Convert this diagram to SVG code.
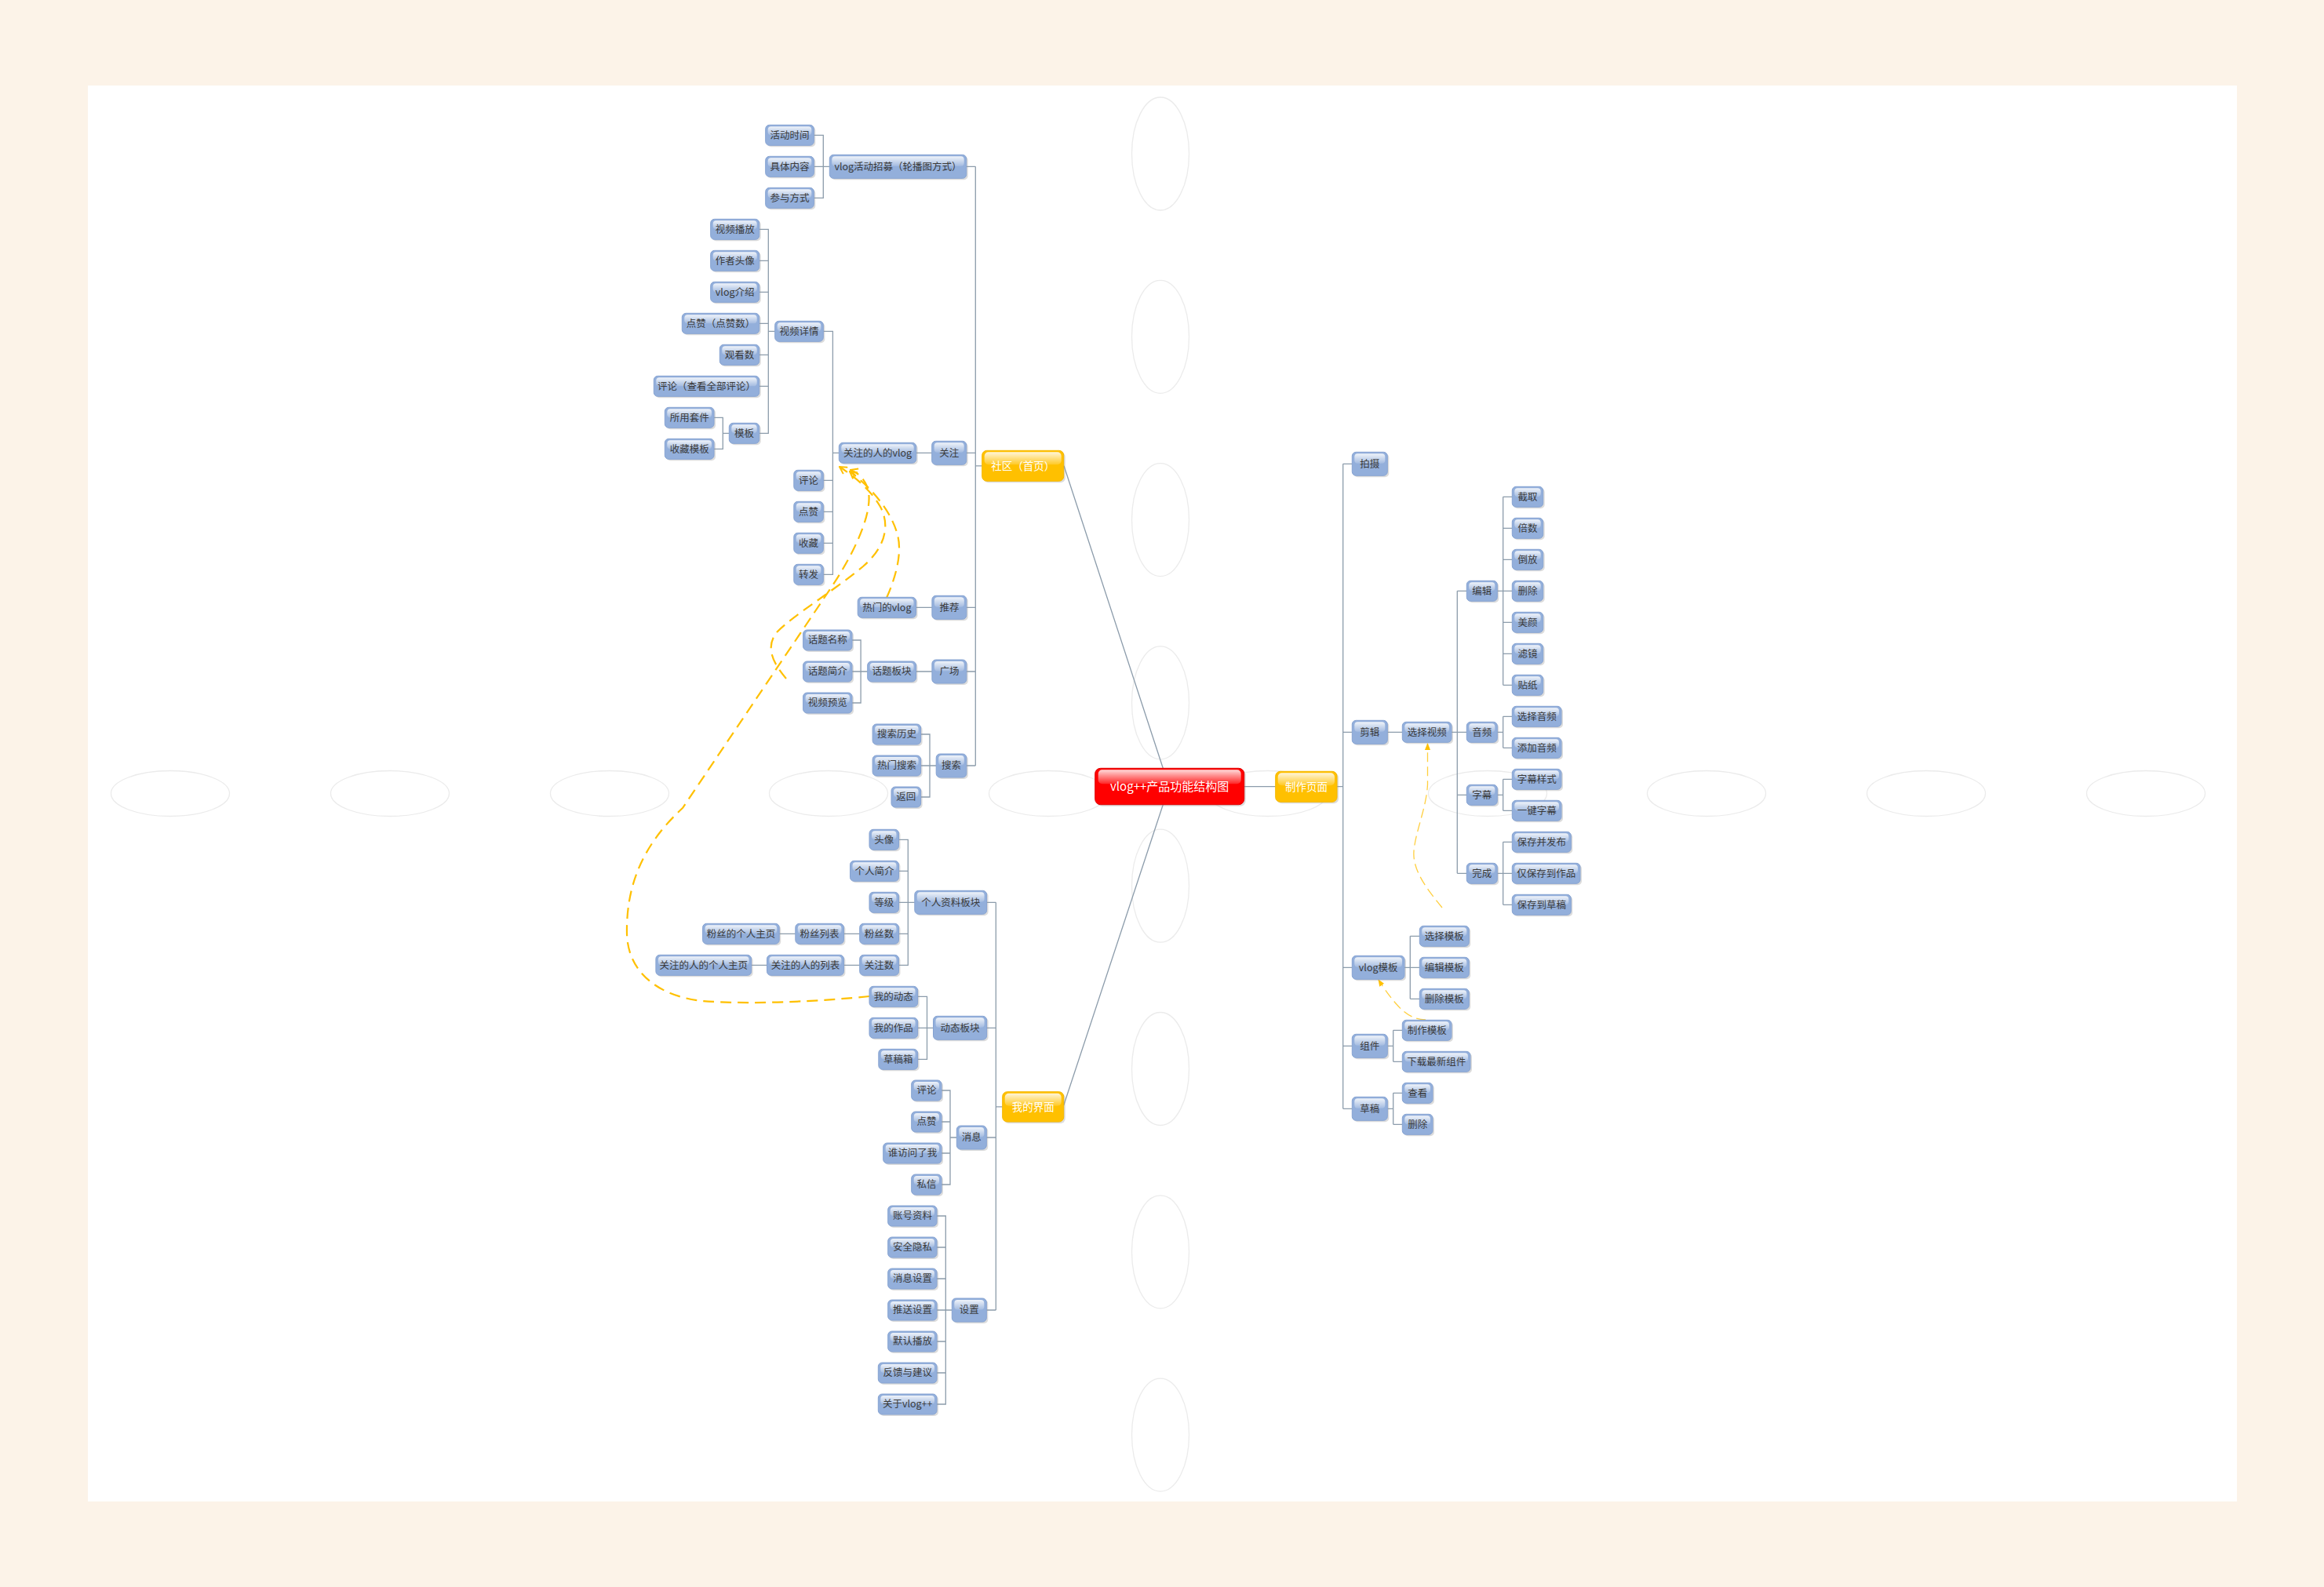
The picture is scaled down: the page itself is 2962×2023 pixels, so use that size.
<svg xmlns="http://www.w3.org/2000/svg" width="2962" height="2023" viewBox="0 0 2962 2023">
<defs>
<style>
.s{fill:#9a9a9a;opacity:.35}
.b{fill:#93AFDB;stroke:#86A3D2;stroke-width:1}
.g{fill:url(#gl)}
.o{fill:#FFC000;stroke:#F5B800;stroke-width:1}
.r{fill:#FF0000;stroke:#E00000;stroke-width:1}
.t{font-family:"Noto Sans CJK SC","Noto Sans",sans-serif;font-size:12.5px;fill:#3a3a3a;text-anchor:middle}
.to{font-family:"Noto Sans CJK SC","Noto Sans",sans-serif;font-size:13.5px;fill:#ffffff;text-anchor:middle}
.tr{font-family:"Noto Sans CJK SC","Noto Sans",sans-serif;font-size:15px;fill:#ffffff;text-anchor:middle}
.ln{fill:none;stroke:#8C9CAB;stroke-width:1.3}
.el{fill:none;stroke:#EBEBEB;stroke-width:1.3}
.dl{fill:none;stroke:#FFC000;stroke-width:2.2;stroke-dasharray:14 8}
.dr{fill:none;stroke:#FFCF3F;stroke-width:1.3;stroke-dasharray:12 6}
</style>
<linearGradient id="gl" x1="0" y1="0" x2="0" y2="1">
<stop offset="0" stop-color="#fff" stop-opacity=".85"/>
<stop offset="1" stop-color="#fff" stop-opacity=".15"/>
</linearGradient>
<marker id="aL" viewBox="0 0 12 12" refX="11" refY="6" markerWidth="12" markerHeight="12" markerUnits="userSpaceOnUse" orient="auto">
<path d="M2 1 L11 6 L2 11" fill="none" stroke="#FFC000" stroke-width="2"/>
</marker>
<marker id="aR" viewBox="0 0 10 10" refX="9" refY="5" markerWidth="9" markerHeight="9" markerUnits="userSpaceOnUse" orient="auto">
<path d="M0 1 L10 5 L0 9 z" fill="#FFC000"/>
</marker>
</defs>

<rect x="0" y="0" width="2962" height="2023" fill="#FCF3E8"/>
<rect x="112" y="109" width="2739" height="1805" fill="#FFFFFF"/>

<g id="ellipses">
<ellipse class="el" cx="217" cy="1011.5" rx="75.5" ry="29"/>
<ellipse class="el" cx="497" cy="1011.5" rx="75.5" ry="29"/>
<ellipse class="el" cx="777" cy="1011.5" rx="75.5" ry="29"/>
<ellipse class="el" cx="1056" cy="1011.5" rx="75.5" ry="29"/>
<ellipse class="el" cx="1336" cy="1011.5" rx="75.5" ry="29"/>
<ellipse class="el" cx="1616" cy="1011.5" rx="75.5" ry="29"/>
<ellipse class="el" cx="1896" cy="1011.5" rx="75.5" ry="29"/>
<ellipse class="el" cx="2175" cy="1011.5" rx="75.5" ry="29"/>
<ellipse class="el" cx="2455" cy="1011.5" rx="75.5" ry="29"/>
<ellipse class="el" cx="2735" cy="1011.5" rx="75.5" ry="29"/>
<ellipse class="el" cx="1479" cy="196" rx="36.5" ry="72"/>
<ellipse class="el" cx="1479" cy="429.3" rx="36.5" ry="72"/>
<ellipse class="el" cx="1479" cy="662.6" rx="36.5" ry="72"/>
<ellipse class="el" cx="1479" cy="895.9" rx="36.5" ry="72"/>
<ellipse class="el" cx="1479" cy="1129.2" rx="36.5" ry="72"/>
<ellipse class="el" cx="1479" cy="1362.5" rx="36.5" ry="72"/>
<ellipse class="el" cx="1479" cy="1595.8" rx="36.5" ry="72"/>
<ellipse class="el" cx="1479" cy="1829.1" rx="36.5" ry="72"/>
</g>

<g id="connectors">
<path class="ln" d="M1243.3 212.3 V976 M1231.7 212.3 H1243.3 M1231.7 577.3 H1243.3 M1231.8 774.3 H1243.3 M1231.8 856 H1243.3 M1231.8 976 H1243.3 M1243.3 593.8 H1251.7
M1037.3 172.3 H1049.3 V252.3 H1037.3 M1037.3 212.3 H1057.3
M1167.7 577.3 H1187.7
M1049.3 422.3 H1061.4 V732.3 H1049.3 M1049.3 612.3 H1061.4 M1049.3 652.3 H1061.4 M1049.3 692.3 H1061.4 M1061.4 577.3 H1069.3
M967.7 292.3 H979.3 V552.3 H967.7 M967.7 332.3 H979.3 M967.7 372.3 H979.3 M967.7 412.3 H979.3 M967.7 452.3 H979.3 M967.7 492.3 H979.3 M979.3 422.3 H987.7
M910 532.3 H921.3 V572.3 H910 M921.3 552.3 H929.3
M1167.5 774.3 H1187.9 M1167.5 856 H1187.9
M1086 816 H1097.1 V896 H1086 M1086 856 H1105.7
M1173.6 936 H1185 V1016 H1173.6 M1173.6 976 H1193.2
M1356 593.8 L1482.3 979.3 M1482.3 1025.7 L1355.7 1409 M1585.7 1002.7 H1625.7
M1269.3 1150.3 V1670 M1257.6 1150.3 H1269.3 M1257.6 1310.3 H1269.3 M1257.3 1450 H1269.3 M1257.3 1670 H1269.3 M1269.3 1410.8 H1277.7
M1145.5 1070.3 H1157.3 V1230.3 H1145.5 M1145.5 1110.3 H1157.3 M1145.5 1150.3 H1165.8 M1145.5 1190.3 H1157.3
M1075.4 1190.3 H1095.7 M993.2 1190.3 H1013.8 M1075.4 1230.3 H1095.7 M957.6 1230.3 H977.5
M1169.6 1270.3 H1181.5 V1350.3 H1169.6 M1169.6 1310.3 H1189.5
M1200 1390 H1211 V1510 H1200 M1200 1430 H1211 M1200 1470 H1211 M1211 1450 H1219.3
M1194 1550 H1205.3 V1790 H1194 M1194 1590 H1205.3 M1194 1630 H1205.3 M1194 1670 H1213.3 M1194 1710 H1205.3 M1194 1750 H1205.3
M1704 1002.7 H1711.7 M1711.7 591.3 V1413.3 M1711.7 591.3 H1723.3 M1711.7 933.3 H1723.3 M1711.7 1233.3 H1723.3 M1711.7 1333.3 H1723.3 M1711.7 1413.3 H1723.3
M1768.3 933.3 H1787.3 M1850 933.3 H1857.3 M1857.3 753.3 V1113.3 M1857.3 753.3 H1869.3 M1857.3 933.3 H1869.3 M1857.3 1013.3 H1869.3 M1857.3 1113.3 H1869.3
M1908.3 753.3 H1927.3 M1915.7 633.3 V873.3 M1915.7 633.3 H1927.3 M1915.7 673.3 H1927.3 M1915.7 713.3 H1927.3 M1915.7 793.3 H1927.3 M1915.7 833.3 H1927.3 M1915.7 873.3 H1927.3
M1908.3 933.3 H1915.7 M1915.7 913.3 V953.3 M1915.7 913.3 H1927.3 M1915.7 953.3 H1927.3
M1908.3 1013.3 H1915.7 M1915.7 993.3 V1033.3 M1915.7 993.3 H1927.3 M1915.7 1033.3 H1927.3
M1908.3 1113.3 H1927.3 M1915.7 1073.3 V1153.3 M1915.7 1073.3 H1927.3 M1915.7 1153.3 H1927.3
M1790 1233.3 H1809.3 M1797.3 1193.3 V1273.3 M1797.3 1193.3 H1809.3 M1797.3 1273.3 H1809.3
M1768.3 1333.3 H1775.7 M1775.7 1313.3 V1353.3 M1775.7 1313.3 H1787.3 M1775.7 1353.3 H1787.3
M1768.3 1413.3 H1775.7 M1775.7 1393.3 V1433.3 M1775.7 1393.3 H1787.3 M1775.7 1433.3 H1787.3"/>
<path class="dl" marker-end="url(#aL)" d="M1108 1270 C1050 1276 960 1281 895 1276 C840 1270 800 1240 799 1190 C798 1130 818 1078 870 1030 L1060 748 C1095 695 1115 645 1105 620 C1100 608 1092 602 1084 599"/>
<path class="dl" marker-end="url(#aL)" d="M1002 865 C985 845 975 825 990 806 C1010 785 1060 755 1100 722 C1128 698 1135 670 1122 646 C1110 625 1090 608 1070 595"/>
<path class="dl" marker-end="url(#aL)" d="M1130 762 C1142 735 1150 705 1144 682 C1137 655 1115 625 1083 601"/>
<path class="dr" marker-end="url(#aR)" d="M1838 1157 C1820 1135 1800 1110 1802 1085 C1804 1060 1818 1030 1819.5 1000 L1819.5 948"/>
<path class="dr" marker-end="url(#aR)" d="M1817 1300 C1800 1299 1790 1292 1778 1278 C1768 1266 1762 1257 1757 1249"/>
</g>

<g id="root"><rect class="s" x="1397.7" y="981.3" width="190" height="46.4" rx="7"/><rect class="r" x="1395.7" y="979.3" width="190" height="46.4" rx="7"/><rect class="g" x="1399.7" y="981.3" width="182" height="18" rx="5"/><text class="tr" x="1490.7" y="1007.8">vlog++产品功能结构图</text></g>

<g id="shequ"><rect class="s" x="1253.7" y="576.3" width="104" height="39" rx="6"/><rect class="o" x="1251.7" y="574.3" width="104" height="39" rx="6"/><rect class="g" x="1254.7" y="576.3" width="98" height="16" rx="5"/><text class="to" x="1303.7" y="598.6">社区（首页）</text></g>
<g id="zhizuo"><rect class="s" x="1627.7" y="985.3" width="78.3" height="39" rx="6"/><rect class="o" x="1625.7" y="983.3" width="78.3" height="39" rx="6"/><rect class="g" x="1628.7" y="985.3" width="72.3" height="16" rx="5"/><text class="to" x="1664.9" y="1007.6">制作页面</text></g>
<g id="wode"><rect class="s" x="1279.7" y="1393.7" width="78" height="38.3" rx="6"/><rect class="o" x="1277.7" y="1391.7" width="78" height="38.3" rx="6"/><rect class="g" x="1280.7" y="1393.7" width="72" height="16" rx="5"/><text class="to" x="1316.7" y="1415.6">我的界面</text></g>

<g id="n-huodong"><rect class="s" x="1059.3" y="199.3" width="174.4" height="30" rx="5"/><rect class="b" x="1057.3" y="197.3" width="174.4" height="30" rx="5"/><rect class="g" x="1060.3" y="199.3" width="168.4" height="12.5" rx="4"/><text class="t" x="1144.5" y="216.7">vlog活动招募（轮播图方式）</text></g>
<g id="n-hdsj"><rect class="s" x="977.7" y="161.3" width="61.6" height="26" rx="5"/><rect class="b" x="975.7" y="159.3" width="61.6" height="26" rx="5"/><rect class="g" x="978.7" y="161.3" width="55.6" height="11" rx="4"/><text class="t" x="1006.5" y="176.7">活动时间</text></g>
<g id="n-jtnr"><rect class="s" x="977.7" y="201.3" width="61.6" height="26" rx="5"/><rect class="b" x="975.7" y="199.3" width="61.6" height="26" rx="5"/><rect class="g" x="978.7" y="201.3" width="55.6" height="11" rx="4"/><text class="t" x="1006.5" y="216.7">具体内容</text></g>
<g id="n-cyfs"><rect class="s" x="977.7" y="241.3" width="61.6" height="26" rx="5"/><rect class="b" x="975.7" y="239.3" width="61.6" height="26" rx="5"/><rect class="g" x="978.7" y="241.3" width="55.6" height="11" rx="4"/><text class="t" x="1006.5" y="256.7">参与方式</text></g>
<g id="n-guanzhu"><rect class="s" x="1189.7" y="564.3" width="44" height="30" rx="5"/><rect class="b" x="1187.7" y="562.3" width="44" height="30" rx="5"/><rect class="g" x="1190.7" y="564.3" width="38" height="12.5" rx="4"/><text class="t" x="1209.7" y="581.7">关注</text></g>
<g id="n-gzdr"><rect class="s" x="1071.3" y="566.3" width="98.4" height="26" rx="5"/><rect class="b" x="1069.3" y="564.3" width="98.4" height="26" rx="5"/><rect class="g" x="1072.3" y="566.3" width="92.4" height="11" rx="4"/><text class="t" x="1118.5" y="581.7">关注的人的vlog</text></g>
<g id="n-spxq"><rect class="s" x="989.7" y="411.3" width="61.6" height="26" rx="5"/><rect class="b" x="987.7" y="409.3" width="61.6" height="26" rx="5"/><rect class="g" x="990.7" y="411.3" width="55.6" height="11" rx="4"/><text class="t" x="1018.5" y="426.7">视频详情</text></g>
<g id="n-spbf"><rect class="s" x="907.7" y="281.3" width="62" height="26" rx="5"/><rect class="b" x="905.7" y="279.3" width="62" height="26" rx="5"/><rect class="g" x="908.7" y="281.3" width="56" height="11" rx="4"/><text class="t" x="936.7" y="296.7">视频播放</text></g>
<g id="n-zztx"><rect class="s" x="907.7" y="321.3" width="62" height="26" rx="5"/><rect class="b" x="905.7" y="319.3" width="62" height="26" rx="5"/><rect class="g" x="908.7" y="321.3" width="56" height="11" rx="4"/><text class="t" x="936.7" y="336.7">作者头像</text></g>
<g id="n-vljs"><rect class="s" x="907.7" y="361.3" width="62" height="26" rx="5"/><rect class="b" x="905.7" y="359.3" width="62" height="26" rx="5"/><rect class="g" x="908.7" y="361.3" width="56" height="11" rx="4"/><text class="t" x="936.7" y="376.7">vlog介绍</text></g>
<g id="n-dzs"><rect class="s" x="871.3" y="401.3" width="98.4" height="26" rx="5"/><rect class="b" x="869.3" y="399.3" width="98.4" height="26" rx="5"/><rect class="g" x="872.3" y="401.3" width="92.4" height="11" rx="4"/><text class="t" x="918.5" y="416.7">点赞（点赞数）</text></g>
<g id="n-gks"><rect class="s" x="919.3" y="441.3" width="50.4" height="26" rx="5"/><rect class="b" x="917.3" y="439.3" width="50.4" height="26" rx="5"/><rect class="g" x="920.3" y="441.3" width="44.4" height="11" rx="4"/><text class="t" x="942.5" y="456.7">观看数</text></g>
<g id="n-plqb"><rect class="s" x="835.3" y="481.3" width="134.4" height="26" rx="5"/><rect class="b" x="833.3" y="479.3" width="134.4" height="26" rx="5"/><rect class="g" x="836.3" y="481.3" width="128.4" height="11" rx="4"/><text class="t" x="900.5" y="496.7">评论（查看全部评论）</text></g>
<g id="n-moban"><rect class="s" x="931.3" y="541.3" width="38.4" height="26" rx="5"/><rect class="b" x="929.3" y="539.3" width="38.4" height="26" rx="5"/><rect class="g" x="932.3" y="541.3" width="32.4" height="11" rx="4"/><text class="t" x="948.5" y="556.7">模板</text></g>
<g id="n-syt"><rect class="s" x="849.3" y="521.3" width="62.7" height="26" rx="5"/><rect class="b" x="847.3" y="519.3" width="62.7" height="26" rx="5"/><rect class="g" x="850.3" y="521.3" width="56.7" height="11" rx="4"/><text class="t" x="878.7" y="536.7">所用套件</text></g>
<g id="n-scmb"><rect class="s" x="849.3" y="561.3" width="62.7" height="26" rx="5"/><rect class="b" x="847.3" y="559.3" width="62.7" height="26" rx="5"/><rect class="g" x="850.3" y="561.3" width="56.7" height="11" rx="4"/><text class="t" x="878.7" y="576.7">收藏模板</text></g>
<g id="n-pl1"><rect class="s" x="1013.8" y="601.3" width="37.5" height="26" rx="5"/><rect class="b" x="1011.8" y="599.3" width="37.5" height="26" rx="5"/><rect class="g" x="1014.8" y="601.3" width="31.5" height="11" rx="4"/><text class="t" x="1030.6" y="616.7">评论</text></g>
<g id="n-dz1"><rect class="s" x="1013.8" y="641.3" width="37.5" height="26" rx="5"/><rect class="b" x="1011.8" y="639.3" width="37.5" height="26" rx="5"/><rect class="g" x="1014.8" y="641.3" width="31.5" height="11" rx="4"/><text class="t" x="1030.6" y="656.7">点赞</text></g>
<g id="n-sc1"><rect class="s" x="1013.8" y="681.3" width="37.5" height="26" rx="5"/><rect class="b" x="1011.8" y="679.3" width="37.5" height="26" rx="5"/><rect class="g" x="1014.8" y="681.3" width="31.5" height="11" rx="4"/><text class="t" x="1030.6" y="696.7">收藏</text></g>
<g id="n-zf1"><rect class="s" x="1013.8" y="721.3" width="37.5" height="26" rx="5"/><rect class="b" x="1011.8" y="719.3" width="37.5" height="26" rx="5"/><rect class="g" x="1014.8" y="721.3" width="31.5" height="11" rx="4"/><text class="t" x="1030.6" y="736.7">转发</text></g>
<g id="n-tuijian"><rect class="s" x="1189.9" y="761.3" width="43.9" height="30" rx="5"/><rect class="b" x="1187.9" y="759.3" width="43.9" height="30" rx="5"/><rect class="g" x="1190.9" y="761.3" width="37.9" height="12.5" rx="4"/><text class="t" x="1209.9" y="778.7">推荐</text></g>
<g id="n-rmvl"><rect class="s" x="1095.2" y="763.3" width="74.3" height="26" rx="5"/><rect class="b" x="1093.2" y="761.3" width="74.3" height="26" rx="5"/><rect class="g" x="1096.2" y="763.3" width="68.3" height="11" rx="4"/><text class="t" x="1130.4" y="778.7">热门的vlog</text></g>
<g id="n-guangchang"><rect class="s" x="1189.9" y="843" width="43.9" height="30" rx="5"/><rect class="b" x="1187.9" y="841" width="43.9" height="30" rx="5"/><rect class="g" x="1190.9" y="843" width="37.9" height="12.5" rx="4"/><text class="t" x="1209.9" y="860.4">广场</text></g>
<g id="n-htbk"><rect class="s" x="1107.7" y="845" width="61.8" height="26" rx="5"/><rect class="b" x="1105.7" y="843" width="61.8" height="26" rx="5"/><rect class="g" x="1108.7" y="845" width="55.8" height="11" rx="4"/><text class="t" x="1136.6" y="860.4">话题板块</text></g>
<g id="n-htmc"><rect class="s" x="1025.6" y="805" width="62.4" height="26" rx="5"/><rect class="b" x="1023.6" y="803" width="62.4" height="26" rx="5"/><rect class="g" x="1026.6" y="805" width="56.4" height="11" rx="4"/><text class="t" x="1054.8" y="820.4">话题名称</text></g>
<g id="n-htjj"><rect class="s" x="1025.6" y="845" width="62.4" height="26" rx="5"/><rect class="b" x="1023.6" y="843" width="62.4" height="26" rx="5"/><rect class="g" x="1026.6" y="845" width="56.4" height="11" rx="4"/><text class="t" x="1054.8" y="860.4">话题简介</text></g>
<g id="n-spyl"><rect class="s" x="1025.6" y="885" width="62.4" height="26" rx="5"/><rect class="b" x="1023.6" y="883" width="62.4" height="26" rx="5"/><rect class="g" x="1026.6" y="885" width="56.4" height="11" rx="4"/><text class="t" x="1054.8" y="900.4">视频预览</text></g>
<g id="n-sousuo"><rect class="s" x="1195.2" y="963" width="38.6" height="30" rx="5"/><rect class="b" x="1193.2" y="961" width="38.6" height="30" rx="5"/><rect class="g" x="1196.2" y="963" width="32.6" height="12.5" rx="4"/><text class="t" x="1212.5" y="980.4">搜索</text></g>
<g id="n-sslx"><rect class="s" x="1114.1" y="925" width="61.5" height="26" rx="5"/><rect class="b" x="1112.1" y="923" width="61.5" height="26" rx="5"/><rect class="g" x="1115.1" y="925" width="55.5" height="11" rx="4"/><text class="t" x="1142.9" y="940.4">搜索历史</text></g>
<g id="n-rmss"><rect class="s" x="1114.1" y="965" width="61.5" height="26" rx="5"/><rect class="b" x="1112.1" y="963" width="61.5" height="26" rx="5"/><rect class="g" x="1115.1" y="965" width="55.5" height="11" rx="4"/><text class="t" x="1142.9" y="980.4">热门搜索</text></g>
<g id="n-fanhui"><rect class="s" x="1138" y="1005" width="37.6" height="26" rx="5"/><rect class="b" x="1136" y="1003" width="37.6" height="26" rx="5"/><rect class="g" x="1139" y="1005" width="31.6" height="11" rx="4"/><text class="t" x="1154.8" y="1020.4">返回</text></g>

<g id="n-grzl"><rect class="s" x="1167.8" y="1137.3" width="91.8" height="30" rx="5"/><rect class="b" x="1165.8" y="1135.3" width="91.8" height="30" rx="5"/><rect class="g" x="1168.8" y="1137.3" width="85.8" height="12.5" rx="4"/><text class="t" x="1211.7" y="1154.7">个人资料板块</text></g>
<g id="n-touxiang"><rect class="s" x="1110" y="1059.3" width="37.5" height="26" rx="5"/><rect class="b" x="1108" y="1057.3" width="37.5" height="26" rx="5"/><rect class="g" x="1111" y="1059.3" width="31.5" height="11" rx="4"/><text class="t" x="1126.8" y="1074.7">头像</text></g>
<g id="n-grjj"><rect class="s" x="1085.5" y="1099.3" width="62" height="26" rx="5"/><rect class="b" x="1083.5" y="1097.3" width="62" height="26" rx="5"/><rect class="g" x="1086.5" y="1099.3" width="56" height="11" rx="4"/><text class="t" x="1114.5" y="1114.7">个人简介</text></g>
<g id="n-dengji"><rect class="s" x="1110" y="1139.3" width="37.5" height="26" rx="5"/><rect class="b" x="1108" y="1137.3" width="37.5" height="26" rx="5"/><rect class="g" x="1111" y="1139.3" width="31.5" height="11" rx="4"/><text class="t" x="1126.8" y="1154.7">等级</text></g>
<g id="n-fss"><rect class="s" x="1097.7" y="1179.3" width="49.8" height="26" rx="5"/><rect class="b" x="1095.7" y="1177.3" width="49.8" height="26" rx="5"/><rect class="g" x="1098.7" y="1179.3" width="43.8" height="11" rx="4"/><text class="t" x="1120.6" y="1194.7">粉丝数</text></g>
<g id="n-gzs"><rect class="s" x="1097.7" y="1219.3" width="49.8" height="26" rx="5"/><rect class="b" x="1095.7" y="1217.3" width="49.8" height="26" rx="5"/><rect class="g" x="1098.7" y="1219.3" width="43.8" height="11" rx="4"/><text class="t" x="1120.6" y="1234.7">关注数</text></g>
<g id="n-fslb"><rect class="s" x="1015.8" y="1179.3" width="61.6" height="26" rx="5"/><rect class="b" x="1013.8" y="1177.3" width="61.6" height="26" rx="5"/><rect class="g" x="1016.8" y="1179.3" width="55.6" height="11" rx="4"/><text class="t" x="1044.6" y="1194.7">粉丝列表</text></g>
<g id="n-fszy"><rect class="s" x="897.6" y="1179.3" width="97.6" height="26" rx="5"/><rect class="b" x="895.6" y="1177.3" width="97.6" height="26" rx="5"/><rect class="g" x="898.6" y="1179.3" width="91.6" height="11" rx="4"/><text class="t" x="944.4" y="1194.7">粉丝的个人主页</text></g>
<g id="n-gzlb"><rect class="s" x="979.5" y="1219.3" width="97.9" height="26" rx="5"/><rect class="b" x="977.5" y="1217.3" width="97.9" height="26" rx="5"/><rect class="g" x="980.5" y="1219.3" width="91.9" height="11" rx="4"/><text class="t" x="1026.5" y="1234.7">关注的人的列表</text></g>
<g id="n-gzzy"><rect class="s" x="837.9" y="1219.3" width="121.7" height="26" rx="5"/><rect class="b" x="835.9" y="1217.3" width="121.7" height="26" rx="5"/><rect class="g" x="838.9" y="1219.3" width="115.7" height="11" rx="4"/><text class="t" x="896.8" y="1234.7">关注的人的个人主页</text></g>
<g id="n-dtbk"><rect class="s" x="1191.5" y="1297.3" width="68.1" height="30" rx="5"/><rect class="b" x="1189.5" y="1295.3" width="68.1" height="30" rx="5"/><rect class="g" x="1192.5" y="1297.3" width="62.1" height="12.5" rx="4"/><text class="t" x="1223.6" y="1314.7">动态板块</text></g>
<g id="n-wddt"><rect class="s" x="1110" y="1259.3" width="61.6" height="26" rx="5"/><rect class="b" x="1108" y="1257.3" width="61.6" height="26" rx="5"/><rect class="g" x="1111" y="1259.3" width="55.6" height="11" rx="4"/><text class="t" x="1138.8" y="1274.7">我的动态</text></g>
<g id="n-wdzp"><rect class="s" x="1110" y="1299.3" width="61.6" height="26" rx="5"/><rect class="b" x="1108" y="1297.3" width="61.6" height="26" rx="5"/><rect class="g" x="1111" y="1299.3" width="55.6" height="11" rx="4"/><text class="t" x="1138.8" y="1314.7">我的作品</text></g>
<g id="n-cgx"><rect class="s" x="1121.8" y="1339.3" width="49.8" height="26" rx="5"/><rect class="b" x="1119.8" y="1337.3" width="49.8" height="26" rx="5"/><rect class="g" x="1122.8" y="1339.3" width="43.8" height="11" rx="4"/><text class="t" x="1144.7" y="1354.7">草稿箱</text></g>
<g id="n-xiaoxi"><rect class="s" x="1221.3" y="1437" width="38" height="30" rx="5"/><rect class="b" x="1219.3" y="1435" width="38" height="30" rx="5"/><rect class="g" x="1222.3" y="1437" width="32" height="12.5" rx="4"/><text class="t" x="1238.3" y="1454.4">消息</text></g>
<g id="n-pl2"><rect class="s" x="1163.7" y="1379" width="38.3" height="26" rx="5"/><rect class="b" x="1161.7" y="1377" width="38.3" height="26" rx="5"/><rect class="g" x="1164.7" y="1379" width="32.3" height="11" rx="4"/><text class="t" x="1180.9" y="1394.4">评论</text></g>
<g id="n-dz2"><rect class="s" x="1163.7" y="1419" width="38.3" height="26" rx="5"/><rect class="b" x="1161.7" y="1417" width="38.3" height="26" rx="5"/><rect class="g" x="1164.7" y="1419" width="32.3" height="11" rx="4"/><text class="t" x="1180.9" y="1434.4">点赞</text></g>
<g id="n-sfw"><rect class="s" x="1127.7" y="1459" width="74.3" height="26" rx="5"/><rect class="b" x="1125.7" y="1457" width="74.3" height="26" rx="5"/><rect class="g" x="1128.7" y="1459" width="68.3" height="11" rx="4"/><text class="t" x="1162.9" y="1474.4">谁访问了我</text></g>
<g id="n-sixin"><rect class="s" x="1163.7" y="1499" width="38.3" height="26" rx="5"/><rect class="b" x="1161.7" y="1497" width="38.3" height="26" rx="5"/><rect class="g" x="1164.7" y="1499" width="32.3" height="11" rx="4"/><text class="t" x="1180.9" y="1514.4">私信</text></g>
<g id="n-shezhi"><rect class="s" x="1215.3" y="1657" width="44" height="30" rx="5"/><rect class="b" x="1213.3" y="1655" width="44" height="30" rx="5"/><rect class="g" x="1216.3" y="1657" width="38" height="12.5" rx="4"/><text class="t" x="1235.3" y="1674.4">设置</text></g>
<g id="n-zhzl"><rect class="s" x="1133.7" y="1539" width="62.3" height="26" rx="5"/><rect class="b" x="1131.7" y="1537" width="62.3" height="26" rx="5"/><rect class="g" x="1134.7" y="1539" width="56.3" height="11" rx="4"/><text class="t" x="1162.9" y="1554.4">账号资料</text></g>
<g id="n-aqys"><rect class="s" x="1133.7" y="1579" width="62.3" height="26" rx="5"/><rect class="b" x="1131.7" y="1577" width="62.3" height="26" rx="5"/><rect class="g" x="1134.7" y="1579" width="56.3" height="11" rx="4"/><text class="t" x="1162.9" y="1594.4">安全隐私</text></g>
<g id="n-xxsz"><rect class="s" x="1133.7" y="1619" width="62.3" height="26" rx="5"/><rect class="b" x="1131.7" y="1617" width="62.3" height="26" rx="5"/><rect class="g" x="1134.7" y="1619" width="56.3" height="11" rx="4"/><text class="t" x="1162.9" y="1634.4">消息设置</text></g>
<g id="n-tssz"><rect class="s" x="1133.7" y="1659" width="62.3" height="26" rx="5"/><rect class="b" x="1131.7" y="1657" width="62.3" height="26" rx="5"/><rect class="g" x="1134.7" y="1659" width="56.3" height="11" rx="4"/><text class="t" x="1162.9" y="1674.4">推送设置</text></g>
<g id="n-mrbf"><rect class="s" x="1133.7" y="1699" width="62.3" height="26" rx="5"/><rect class="b" x="1131.7" y="1697" width="62.3" height="26" rx="5"/><rect class="g" x="1134.7" y="1699" width="56.3" height="11" rx="4"/><text class="t" x="1162.9" y="1714.4">默认播放</text></g>
<g id="n-fkjy"><rect class="s" x="1121.3" y="1739" width="74.7" height="26" rx="5"/><rect class="b" x="1119.3" y="1737" width="74.7" height="26" rx="5"/><rect class="g" x="1122.3" y="1739" width="68.7" height="11" rx="4"/><text class="t" x="1156.7" y="1754.4">反馈与建议</text></g>
<g id="n-gyvl"><rect class="s" x="1121.3" y="1779" width="74.7" height="26" rx="5"/><rect class="b" x="1119.3" y="1777" width="74.7" height="26" rx="5"/><rect class="g" x="1122.3" y="1779" width="68.7" height="11" rx="4"/><text class="t" x="1156.7" y="1794.4">关于vlog++</text></g>

<g id="n-paishe"><rect class="s" x="1725.3" y="578.3" width="45" height="30" rx="5"/><rect class="b" x="1723.3" y="576.3" width="45" height="30" rx="5"/><rect class="g" x="1726.3" y="578.3" width="39" height="12.5" rx="4"/><text class="t" x="1745.8" y="595.7">拍摄</text></g>
<g id="n-jianji"><rect class="s" x="1725.3" y="920.3" width="45" height="30" rx="5"/><rect class="b" x="1723.3" y="918.3" width="45" height="30" rx="5"/><rect class="g" x="1726.3" y="920.3" width="39" height="12.5" rx="4"/><text class="t" x="1745.8" y="937.7">剪辑</text></g>
<g id="n-vlmb"><rect class="s" x="1725.3" y="1220.3" width="66.7" height="30" rx="5"/><rect class="b" x="1723.3" y="1218.3" width="66.7" height="30" rx="5"/><rect class="g" x="1726.3" y="1220.3" width="60.7" height="12.5" rx="4"/><text class="t" x="1756.7" y="1237.7">vlog模板</text></g>
<g id="n-zujian"><rect class="s" x="1725.3" y="1320.3" width="45" height="30" rx="5"/><rect class="b" x="1723.3" y="1318.3" width="45" height="30" rx="5"/><rect class="g" x="1726.3" y="1320.3" width="39" height="12.5" rx="4"/><text class="t" x="1745.8" y="1337.7">组件</text></g>
<g id="n-caogao"><rect class="s" x="1725.3" y="1400.3" width="45" height="30" rx="5"/><rect class="b" x="1723.3" y="1398.3" width="45" height="30" rx="5"/><rect class="g" x="1726.3" y="1400.3" width="39" height="12.5" rx="4"/><text class="t" x="1745.8" y="1417.7">草稿</text></g>
<g id="n-xzsp"><rect class="s" x="1789.3" y="922.3" width="62.7" height="26" rx="5"/><rect class="b" x="1787.3" y="920.3" width="62.7" height="26" rx="5"/><rect class="g" x="1790.3" y="922.3" width="56.7" height="11" rx="4"/><text class="t" x="1818.7" y="937.7">选择视频</text></g>
<g id="n-bianji"><rect class="s" x="1871.3" y="742.3" width="39" height="26" rx="5"/><rect class="b" x="1869.3" y="740.3" width="39" height="26" rx="5"/><rect class="g" x="1872.3" y="742.3" width="33" height="11" rx="4"/><text class="t" x="1888.8" y="757.7">编辑</text></g>
<g id="n-yinpin"><rect class="s" x="1871.3" y="922.3" width="39" height="26" rx="5"/><rect class="b" x="1869.3" y="920.3" width="39" height="26" rx="5"/><rect class="g" x="1872.3" y="922.3" width="33" height="11" rx="4"/><text class="t" x="1888.8" y="937.7">音频</text></g>
<g id="n-zimu"><rect class="s" x="1871.3" y="1002.3" width="39" height="26" rx="5"/><rect class="b" x="1869.3" y="1000.3" width="39" height="26" rx="5"/><rect class="g" x="1872.3" y="1002.3" width="33" height="11" rx="4"/><text class="t" x="1888.8" y="1017.7">字幕</text></g>
<g id="n-wancheng"><rect class="s" x="1871.3" y="1102.3" width="39" height="26" rx="5"/><rect class="b" x="1869.3" y="1100.3" width="39" height="26" rx="5"/><rect class="g" x="1872.3" y="1102.3" width="33" height="11" rx="4"/><text class="t" x="1888.8" y="1117.7">完成</text></g>
<g id="n-jiequ"><rect class="s" x="1929.3" y="622.3" width="39.4" height="26" rx="5"/><rect class="b" x="1927.3" y="620.3" width="39.4" height="26" rx="5"/><rect class="g" x="1930.3" y="622.3" width="33.4" height="11" rx="4"/><text class="t" x="1947" y="637.7">截取</text></g>
<g id="n-beishu"><rect class="s" x="1929.3" y="662.3" width="39.4" height="26" rx="5"/><rect class="b" x="1927.3" y="660.3" width="39.4" height="26" rx="5"/><rect class="g" x="1930.3" y="662.3" width="33.4" height="11" rx="4"/><text class="t" x="1947" y="677.7">倍数</text></g>
<g id="n-daofang"><rect class="s" x="1929.3" y="702.3" width="39.4" height="26" rx="5"/><rect class="b" x="1927.3" y="700.3" width="39.4" height="26" rx="5"/><rect class="g" x="1930.3" y="702.3" width="33.4" height="11" rx="4"/><text class="t" x="1947" y="717.7">倒放</text></g>
<g id="n-shanchu1"><rect class="s" x="1929.3" y="742.3" width="39.4" height="26" rx="5"/><rect class="b" x="1927.3" y="740.3" width="39.4" height="26" rx="5"/><rect class="g" x="1930.3" y="742.3" width="33.4" height="11" rx="4"/><text class="t" x="1947" y="757.7">删除</text></g>
<g id="n-meiyan"><rect class="s" x="1929.3" y="782.3" width="39.4" height="26" rx="5"/><rect class="b" x="1927.3" y="780.3" width="39.4" height="26" rx="5"/><rect class="g" x="1930.3" y="782.3" width="33.4" height="11" rx="4"/><text class="t" x="1947" y="797.7">美颜</text></g>
<g id="n-lvjing"><rect class="s" x="1929.3" y="822.3" width="39.4" height="26" rx="5"/><rect class="b" x="1927.3" y="820.3" width="39.4" height="26" rx="5"/><rect class="g" x="1930.3" y="822.3" width="33.4" height="11" rx="4"/><text class="t" x="1947" y="837.7">滤镜</text></g>
<g id="n-tiezhi"><rect class="s" x="1929.3" y="862.3" width="39.4" height="26" rx="5"/><rect class="b" x="1927.3" y="860.3" width="39.4" height="26" rx="5"/><rect class="g" x="1930.3" y="862.3" width="33.4" height="11" rx="4"/><text class="t" x="1947" y="877.7">贴纸</text></g>
<g id="n-xzyp"><rect class="s" x="1929.3" y="902.3" width="62.7" height="26" rx="5"/><rect class="b" x="1927.3" y="900.3" width="62.7" height="26" rx="5"/><rect class="g" x="1930.3" y="902.3" width="56.7" height="11" rx="4"/><text class="t" x="1958.7" y="917.7">选择音频</text></g>
<g id="n-tjyp"><rect class="s" x="1929.3" y="942.3" width="62.7" height="26" rx="5"/><rect class="b" x="1927.3" y="940.3" width="62.7" height="26" rx="5"/><rect class="g" x="1930.3" y="942.3" width="56.7" height="11" rx="4"/><text class="t" x="1958.7" y="957.7">添加音频</text></g>
<g id="n-zmys"><rect class="s" x="1929.3" y="982.3" width="62.7" height="26" rx="5"/><rect class="b" x="1927.3" y="980.3" width="62.7" height="26" rx="5"/><rect class="g" x="1930.3" y="982.3" width="56.7" height="11" rx="4"/><text class="t" x="1958.7" y="997.7">字幕样式</text></g>
<g id="n-yjzm"><rect class="s" x="1929.3" y="1022.3" width="62.7" height="26" rx="5"/><rect class="b" x="1927.3" y="1020.3" width="62.7" height="26" rx="5"/><rect class="g" x="1930.3" y="1022.3" width="56.7" height="11" rx="4"/><text class="t" x="1958.7" y="1037.7">一键字幕</text></g>
<g id="n-bcfb"><rect class="s" x="1929.3" y="1062.3" width="75" height="26" rx="5"/><rect class="b" x="1927.3" y="1060.3" width="75" height="26" rx="5"/><rect class="g" x="1930.3" y="1062.3" width="69" height="11" rx="4"/><text class="t" x="1964.8" y="1077.7">保存并发布</text></g>
<g id="n-jbczp"><rect class="s" x="1929.3" y="1102.3" width="86.7" height="26" rx="5"/><rect class="b" x="1927.3" y="1100.3" width="86.7" height="26" rx="5"/><rect class="g" x="1930.3" y="1102.3" width="80.7" height="11" rx="4"/><text class="t" x="1970.7" y="1117.7">仅保存到作品</text></g>
<g id="n-bccg"><rect class="s" x="1929.3" y="1142.3" width="75" height="26" rx="5"/><rect class="b" x="1927.3" y="1140.3" width="75" height="26" rx="5"/><rect class="g" x="1930.3" y="1142.3" width="69" height="11" rx="4"/><text class="t" x="1964.8" y="1157.7">保存到草稿</text></g>
<g id="n-xzmb"><rect class="s" x="1811.3" y="1182.3" width="63" height="26" rx="5"/><rect class="b" x="1809.3" y="1180.3" width="63" height="26" rx="5"/><rect class="g" x="1812.3" y="1182.3" width="57" height="11" rx="4"/><text class="t" x="1840.8" y="1197.7">选择模板</text></g>
<g id="n-bjmb"><rect class="s" x="1811.3" y="1222.3" width="63" height="26" rx="5"/><rect class="b" x="1809.3" y="1220.3" width="63" height="26" rx="5"/><rect class="g" x="1812.3" y="1222.3" width="57" height="11" rx="4"/><text class="t" x="1840.8" y="1237.7">编辑模板</text></g>
<g id="n-scmb2"><rect class="s" x="1811.3" y="1262.3" width="63" height="26" rx="5"/><rect class="b" x="1809.3" y="1260.3" width="63" height="26" rx="5"/><rect class="g" x="1812.3" y="1262.3" width="57" height="11" rx="4"/><text class="t" x="1840.8" y="1277.7">删除模板</text></g>
<g id="n-zzmb"><rect class="s" x="1789.3" y="1302.3" width="62.7" height="26" rx="5"/><rect class="b" x="1787.3" y="1300.3" width="62.7" height="26" rx="5"/><rect class="g" x="1790.3" y="1302.3" width="56.7" height="11" rx="4"/><text class="t" x="1818.7" y="1317.7">制作模板</text></g>
<g id="n-xzzj"><rect class="s" x="1789.3" y="1342.3" width="86.7" height="26" rx="5"/><rect class="b" x="1787.3" y="1340.3" width="86.7" height="26" rx="5"/><rect class="g" x="1790.3" y="1342.3" width="80.7" height="11" rx="4"/><text class="t" x="1830.7" y="1357.7">下载最新组件</text></g>
<g id="n-chakan"><rect class="s" x="1789.3" y="1382.3" width="38.7" height="26" rx="5"/><rect class="b" x="1787.3" y="1380.3" width="38.7" height="26" rx="5"/><rect class="g" x="1790.3" y="1382.3" width="32.7" height="11" rx="4"/><text class="t" x="1806.7" y="1397.7">查看</text></g>
<g id="n-shanchu2"><rect class="s" x="1789.3" y="1422.3" width="38.7" height="26" rx="5"/><rect class="b" x="1787.3" y="1420.3" width="38.7" height="26" rx="5"/><rect class="g" x="1790.3" y="1422.3" width="32.7" height="11" rx="4"/><text class="t" x="1806.7" y="1437.7">删除</text></g>
</svg>
